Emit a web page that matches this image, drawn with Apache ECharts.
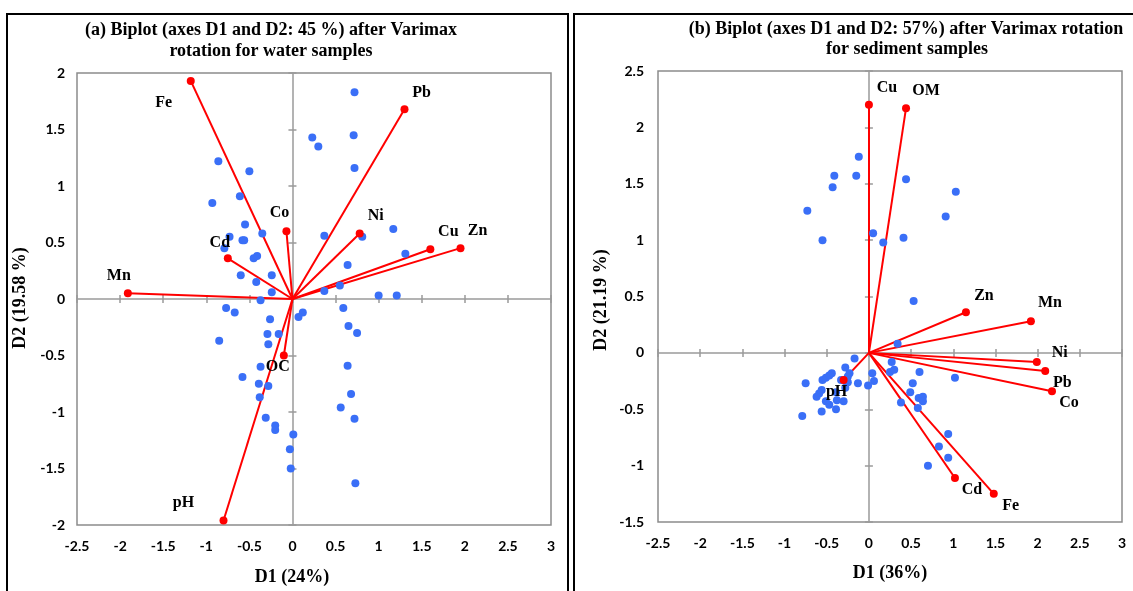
<!DOCTYPE html>
<html>
<head>
<meta charset="utf-8">
<script src="https://cdn.jsdelivr.net/npm/echarts@6/dist/echarts.min.js"></script>
<style>
  html, body { margin: 0; padding: 0; background: #fff; }
  #main { width: 1133px; height: 591px; }
</style>
</head>
<body>
<div id="main"></div>
<script>
// (a) water samples: variable loadings and sample scores
var waterNames = ['Fe', 'Pb', 'Ni', 'Cu', 'Zn', 'Co', 'Cd', 'Mn', 'OC', 'pH'];
var waterLoadings = [[-1.18, 1.93], [1.30, 1.68], [0.78, 0.58], [1.60, 0.44], [1.95, 0.45],
    [-0.07, 0.60], [-0.75, 0.36], [-1.91, 0.05], [-0.10, -0.50], [-0.80, -1.96]];
var waterScores = [
    [-0.86, 1.22], [-0.50, 1.13], [-0.61, 0.91], [-0.93, 0.85], [-0.55, 0.66], [-0.35, 0.58],
    [-0.73, 0.55], [-0.58, 0.52], [-0.56, 0.52], [-0.79, 0.45], [-0.45, 0.36], [-0.41, 0.38],
    [-0.60, 0.21], [-0.24, 0.21], [-0.42, 0.15], [-0.24, 0.06], [-0.37, -0.01], [0.72, 1.83],
    [0.23, 1.43], [0.30, 1.35], [0.71, 1.45], [0.72, 1.16], [0.37, 0.56], [0.81, 0.55],
    [1.17, 0.62], [1.31, 0.40], [0.64, 0.30], [0.55, 0.12], [0.37, 0.07], [1.00, 0.03],
    [1.21, 0.03], [0.59, -0.08], [0.12, -0.12], [0.07, -0.16], [-0.77, -0.08], [-0.67, -0.12],
    [-0.26, -0.18], [-0.29, -0.31], [-0.16, -0.31], [-0.28, -0.40], [-0.85, -0.37], [-0.37, -0.60],
    [-0.58, -0.69], [-0.39, -0.75], [-0.28, -0.77], [-0.38, -0.87], [-0.31, -1.05], [-0.20, -1.12],
    [-0.20, -1.16], [0.01, -1.20], [-0.03, -1.33], [-0.02, -1.50], [0.65, -0.24], [0.75, -0.30],
    [0.64, -0.59], [0.68, -0.84], [0.56, -0.96], [0.72, -1.06], [0.73, -1.63]
];

// (b) sediment samples
var sedNames = ['Cu', 'OM', 'Zn', 'Mn', 'Ni', 'Pb', 'Co', 'Cd', 'Fe', 'pH'];
var sedLoadings = [[0.00, 2.20], [0.44, 2.17], [1.15, 0.36], [1.92, 0.28], [1.99, -0.08],
    [2.09, -0.16], [2.17, -0.34], [1.02, -1.11], [1.48, -1.25], [-0.30, -0.24]];
var sedScores = [
    [-0.12, 1.74], [-0.73, 1.26], [-0.41, 1.57], [-0.43, 1.47], [-0.15, 1.57], [-0.55, 1.00],
    [0.05, 1.06], [0.44, 1.54], [1.03, 1.43], [0.91, 1.21], [0.17, 0.98], [0.41, 1.02],
    [0.53, 0.46], [0.34, 0.08], [0.27, -0.08], [0.25, -0.17], [0.30, -0.15], [0.60, -0.17],
    [1.02, -0.22], [0.04, -0.18], [0.06, -0.25], [-0.01, -0.29], [0.52, -0.27], [0.49, -0.35],
    [0.59, -0.40], [0.64, -0.39], [0.64, -0.43], [0.58, -0.49], [0.38, -0.44], [0.94, -0.72],
    [0.83, -0.83], [0.94, -0.93], [0.70, -1.00], [-0.17, -0.05], [-0.44, -0.18], [-0.47, -0.20],
    [-0.51, -0.22], [-0.55, -0.24], [-0.28, -0.13], [-0.23, -0.18], [-0.25, -0.21], [-0.75, -0.27],
    [-0.13, -0.27], [-0.33, -0.24], [-0.56, -0.33], [-0.59, -0.36], [-0.62, -0.39], [-0.39, -0.35],
    [-0.38, -0.42], [-0.30, -0.43], [-0.51, -0.43], [-0.47, -0.46], [-0.39, -0.50], [-0.56, -0.52],
    [-0.79, -0.56], [-0.25, -0.26], [-0.28, -0.31]
];

// label offsets (px) of the variable names, same order as the names
var waterLabelOffset = [[-27, 22], [17, -16], [16, -18], [18, -17], [17, -17],
    [-7, -18], [-8, -15], [-9, -17], [-6, 11], [-40, -18]];
var sedLabelOffset = [[18, -17], [20, -17], [18, -16], [19, -18], [23, -9],
    [17, 12], [17, 12], [17, 12], [17, 12], [-7, 12]];

var BLUE = '#3a6ff7';
var RED = '#ff0000';
var serifBold = 'bold 18px "Liberation Serif", "Times New Roman", serif';

// 3 axes per direction and grid: labels on the frame, zero line with outer ticks, inner ticks
function axesFor(dim, grid, min, max, zeroIdx, labelMargin){
    var base = { type: 'value', gridIndex: grid, min: min, max: max, interval: 0.5,
        splitLine: { show: false } };
    var pos = dim == 'x' ? 'bottom' : 'left';
    var labels = Object.assign({}, base, {
        position: pos,
        axisLine: { show: false, onZero: false },
        axisTick: { show: false },
        axisLabel: { margin: labelMargin, color: '#000', fontFamily: 'Lato', fontWeight: 'bold', fontSize: 14 }
    });
    var zeroOut = Object.assign({}, base, {
        position: pos,
        axisLine: { show: true, onZero: true, onZeroAxisIndex: zeroIdx, lineStyle: { color: '#9a9a9a', width: 1.5 } },
        axisTick: { show: true, inside: false, length: 4, lineStyle: { color: '#9a9a9a', width: 1.5 } },
        axisLabel: { show: false }
    });
    var zeroIn = Object.assign({}, base, {
        position: pos,
        axisLine: { show: false, onZero: true, onZeroAxisIndex: zeroIdx },
        axisTick: { show: true, inside: true, length: 4, lineStyle: { color: '#9a9a9a', width: 1.5 } },
        axisLabel: { show: false }
    });
    return [labels, zeroOut, zeroIn];
}

function seriesFor(idx, names, loadings, scores, offsets){
    return [
        {
            type: 'lines', coordinateSystem: 'cartesian2d', xAxisIndex: idx, yAxisIndex: idx,
            silent: true,
            lineStyle: { color: RED, width: 2, opacity: 1 },
            data: loadings.map(function(p){ return { coords: [[0, 0], p] }; })
        },
        {
            type: 'scatter', xAxisIndex: idx, yAxisIndex: idx,
            symbolSize: 8, itemStyle: { color: BLUE, opacity: 1 },
            data: scores
        },
        {
            type: 'scatter', xAxisIndex: idx, yAxisIndex: idx,
            symbolSize: 8, itemStyle: { color: RED, opacity: 1 },
            label: { show: true, position: 'inside', formatter: '{b}', color: '#000',
                fontFamily: 'Liberation Serif', fontWeight: 'bold', fontSize: 16 },
            data: loadings.map(function(p, i){
                return { name: names[i], value: p, label: { offset: offsets[i] } };
            })
        }
    ];
}

var xA = axesFor('x', 0, -2.5, 3, 0, 14).concat(axesFor('x', 1, -2.5, 3, 3, 14));
var yA = axesFor('y', 0, -2, 2, 0, 12).concat(axesFor('y', 1, -1.5, 2.5, 3, 14));

function txt(x, y, s, rot){
    return { type: 'text', x: x, y: y, rotation: rot || 0,
        style: { text: s, font: serifBold, fill: '#000', align: 'center', verticalAlign: 'middle' } };
}

var option = {
    animation: false,
    grid: [
        { left: 77, top: 73, width: 474, height: 452, show: true, borderColor: '#8c8c8c', borderWidth: 1.5 },
        { left: 658, top: 71, width: 464, height: 451, show: true, borderColor: '#8c8c8c', borderWidth: 1.5 }
    ],
    xAxis: xA,
    yAxis: yA,
    // series use the label axes (index 0 and 3)
    series: seriesFor(0, waterNames, waterLoadings, waterScores, waterLabelOffset)
        .concat(seriesFor(3, sedNames, sedLoadings, sedScores, sedLabelOffset)),
    graphic: [
        { type: 'rect', shape: { x: 7, y: 14, width: 561, height: 600 },
          style: { fill: null, stroke: '#000', lineWidth: 2 } },
        { type: 'rect', shape: { x: 574, y: 14, width: 600, height: 600 },
          style: { fill: null, stroke: '#000', lineWidth: 2 } },
        txt(271, 30, '(a) Biplot (axes D1 and D2: 45 %) after Varimax'),
        txt(271, 51, 'rotation for water samples'),
        txt(906, 29, '(b) Biplot (axes D1 and D2: 57%) after Varimax rotation'),
        txt(907, 49, 'for sediment samples'),
        txt(292, 577, 'D1 (24%)'),
        txt(890, 573, 'D1 (36%)'),
        txt(20, 298, 'D2 (19.58 %)', Math.PI / 2),
        txt(601, 300, 'D2 (21.19 %)', Math.PI / 2)
    ]
};

var myChart = echarts.init(document.getElementById('main'));
myChart.setOption(option);
</script>
</body>
</html>
